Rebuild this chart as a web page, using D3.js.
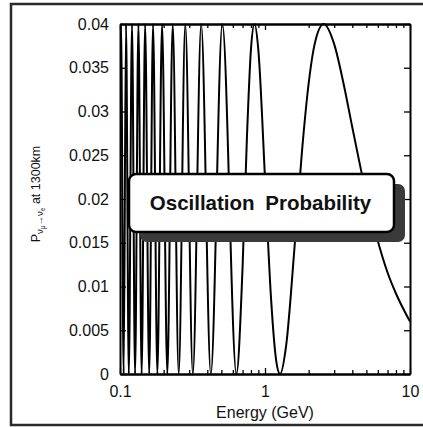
<!DOCTYPE html>
<html>
<head>
<meta charset="utf-8">
<script src="https://cdn.jsdelivr.net/npm/d3@7"></script>
<style>
  html, body { margin: 0; padding: 0; background: #fff; }
  svg { display: block; }
</style>
</head>
<body>
<svg id="chart" width="423" height="427"></svg>
<script>
// ---- data ----
// energies (GeV) of the zeros of the oscillation probability
const zeroEnergies = [1.27, 0.635, 0.423, 0.318, 0.254, 0.212, 0.181, 0.159, 0.141, 0.127, 0.115, 0.106];
// energies (GeV) of the maxima (P = 0.04)
const peakEnergies = [2.54, 0.847, 0.508, 0.363, 0.282, 0.231, 0.195, 0.169, 0.149, 0.134, 0.121, 0.110, 0.1016];
const peakValue = 0.04;
// additional points on the wide lobes (energy, probability)
const extraEnergies = [0.1, 0.7, 0.75, 0.8, 0.9, 1.0, 1.1, 1.2, 1.4, 1.6, 1.8, 2.0, 2.2, 3.0, 3.5, 4.0, 5.0, 6.0, 7.0, 8.0, 10.0];
const extraProbs    = [0.026, 0.0121, 0.0269, 0.0371, 0.0370, 0.0224, 0.0087, 0.0013, 0.0033, 0.0146, 0.0255, 0.0332, 0.0377, 0.0377, 0.0330, 0.0282, 0.0205, 0.0152, 0.0116, 0.0092, 0.0060];

const yTickValues = [0, 0.005, 0.01, 0.015, 0.02, 0.025, 0.03, 0.035, 0.04];
const yTickLabels = ["0", "0.005", "0.01", "0.015", "0.02", "0.025", "0.03", "0.035", "0.04"];
const xTickValues = [0.1, 1, 10];
const xTickLabels = ["0.1", "1", "10"];
const xMinorTicks = [0.2, 0.3, 0.4, 0.5, 0.6, 0.7, 0.8, 0.9, 2, 3, 4, 5, 6, 7, 8, 9];

const xLabel = "Energy (GeV)";
const boxTitle = "Oscillation Probability";

// ---- layout ----
const svg = d3.select("#chart");
const plot = { left: 120, right: 410, top: 24, bottom: 374 };
const font = "'Liberation Sans', Arial, Helvetica, sans-serif";

const x = d3.scaleLog().domain([0.1, 10]).range([plot.left, plot.right]);
const y = d3.scaleLinear().domain([0, 0.04]).range([plot.bottom, plot.top]);

// outer frame
svg.append("rect")
  .attr("x", 11).attr("y", 4).attr("width", 420).attr("height", 421)
  .attr("fill", "none").attr("stroke", "#2a2a2a").attr("stroke-width", 2.5);

// curve points
const pts = [];
zeroEnergies.forEach(e => pts.push([e, 0]));
peakEnergies.forEach(e => pts.push([e, peakValue]));
extraEnergies.forEach((e, i) => pts.push([e, extraProbs[i]]));
pts.sort((a, b) => a[0] - b[0]);

svg.append("defs").append("clipPath").attr("id", "clip")
  .append("rect").attr("x", plot.left).attr("y", plot.top - 2)
  .attr("width", plot.right - plot.left).attr("height", plot.bottom - plot.top + 2);

const line = d3.line().x(d => x(d[0])).y(d => y(d[1])).curve(d3.curveMonotoneX);
svg.append("path").datum(pts)
  .attr("d", line)
  .attr("clip-path", "url(#clip)")
  .attr("fill", "none").attr("stroke", "#000").attr("stroke-width", 2);

// axes (frame + inward ticks)
const gAxes = svg.append("g");
const yLeft = d3.axisLeft(y).tickValues(yTickValues).tickFormat((d, i) => yTickLabels[i]).tickSizeInner(-6).tickSizeOuter(0).tickPadding(11);
const yRight = d3.axisRight(y).tickValues(yTickValues).tickFormat("").tickSizeInner(-6).tickSizeOuter(0);
const xBottom = d3.axisBottom(x).tickValues(xTickValues).tickFormat((d, i) => xTickLabels[i]).tickSizeInner(-6).tickSizeOuter(0).tickPadding(12);
const xTop = d3.axisTop(x).tickValues(xTickValues).tickFormat("").tickSizeInner(-6).tickSizeOuter(0);
const xBottomMinor = d3.axisBottom(x).tickValues(xMinorTicks).tickFormat("").tickSizeInner(-4).tickSizeOuter(0);
const xTopMinor = d3.axisTop(x).tickValues(xMinorTicks).tickFormat("").tickSizeInner(-4).tickSizeOuter(0);

function style(g) {
  g.selectAll("path.domain").attr("stroke", "#000").attr("stroke-width", 2);
  g.selectAll(".tick line").attr("stroke", "#000").attr("stroke-width", 1.3);
  g.selectAll("text").attr("font-family", font).attr("font-size", 16).attr("fill", "#111");
}
gAxes.append("g").attr("transform", `translate(${plot.left},0)`).call(yLeft).call(style);
gAxes.append("g").attr("transform", `translate(${plot.right},0)`).call(yRight).call(style);
gAxes.append("g").attr("transform", `translate(0,${plot.bottom})`).call(xBottom).call(style);
gAxes.append("g").attr("transform", `translate(0,${plot.top})`).call(xTop).call(style);
gAxes.append("g").attr("transform", `translate(0,${plot.bottom})`).call(xBottomMinor).call(style);
gAxes.append("g").attr("transform", `translate(0,${plot.top})`).call(xTopMinor).call(style);

// x-axis title
svg.append("text")
  .attr("x", (plot.left + plot.right) / 2).attr("y", 418)
  .attr("text-anchor", "middle")
  .attr("font-family", font).attr("font-size", 16).attr("fill", "#111")
  .text(xLabel);

// y-axis title with subscripts
const yt = svg.append("text")
  .attr("transform", "translate(40,194) rotate(-90)")
  .attr("text-anchor", "middle")
  .attr("font-family", font).attr("font-size", 12.5).attr("fill", "#111");
yt.append("tspan").text("P");
yt.append("tspan").attr("dy", 3).attr("font-size", 9.5).text("ν");
yt.append("tspan").attr("dy", 2).attr("font-size", 6.5).text("μ");
yt.append("tspan").attr("dy", -2).attr("font-size", 9.5).text("→ν");
yt.append("tspan").attr("dy", 2).attr("font-size", 6.5).text("e");
yt.append("tspan").attr("dy", -5).text(" at 1300km");

// annotation box with shadow
const box = { x: 129, y: 174, w: 265, h: 58 };
svg.append("rect")
  .attr("x", box.x + 11).attr("y", box.y + 10).attr("width", box.w).attr("height", box.h)
  .attr("rx", 7).attr("fill", "#3a3a3a");
svg.append("rect")
  .attr("x", box.x).attr("y", box.y).attr("width", box.w).attr("height", box.h)
  .attr("rx", 7).attr("fill", "#fff").attr("stroke", "#000").attr("stroke-width", 2.5);
svg.append("text")
  .attr("x", box.x + box.w / 2 - 1).attr("y", 210)
  .attr("text-anchor", "middle")
  .attr("font-family", font).attr("font-weight", "bold").attr("font-size", 20.5)
  .attr("word-spacing", 5).attr("fill", "#111")
  .text(boxTitle);
</script>
</body>
</html>
